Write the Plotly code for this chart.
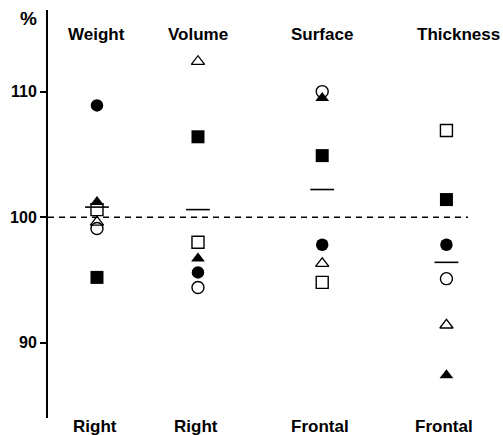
import plotly.graph_objects as go

# ---- data ----
top_labels = ["Weight", "Volume", "Surface", "Thickness"]
bottom_labels = ["Right", "Right", "Frontal", "Frontal"]
cat_pos = [1.0, 2.0, 3.23, 4.46]

filled_circle = [108.9, 95.6, 97.8, 97.8]
open_circle = [99.1, 94.4, 110.0, 95.1]
filled_triangle = [101.2, 96.7, 109.5, 87.4]
open_triangle = [99.6, 112.4, 96.3, 91.4]
filled_square = [95.2, 106.4, 104.9, 101.4]
open_square = [100.6, 98.0, 94.8, 106.9]
means = [100.8, 100.6, 102.2, 96.4]

y_ticks = [90, 100, 110]
reference_level = 100

FONT = "Liberation Sans"

fig = go.Figure()

series = [
    (open_circle, "circle-open", 12, 1.4),
    (filled_circle, "circle", 12.5, 0),
    (open_triangle, "triangle-up-open", 11.5, 1.3),
    (filled_triangle, "triangle-up", 12, 0),
    (open_square, "square-open", 12, 1.4),
    (filled_square, "square", 13, 0),
]
for vals, sym, size, lw in series:
    fig.add_trace(go.Scatter(
        x=cat_pos, y=vals, mode="markers",
        marker=dict(symbol=sym, size=size, color="black",
                    line=dict(color="black", width=lw)),
        showlegend=False, hoverinfo="skip"))

fig.add_trace(go.Scatter(
    x=cat_pos, y=means, mode="markers",
    marker=dict(symbol="line-ew", size=17, color="black",
                line=dict(color="black", width=1.6)),
    showlegend=False, hoverinfo="skip"))

# dashed 100% reference line
fig.add_shape(type="line", xref="paper", yref="y", x0=0, x1=0.923,
              y0=reference_level, y1=reference_level,
              line=dict(color="black", width=1.5, dash="6px,5px"))

# top category labels
for i, (p, t) in enumerate(zip(cat_pos, top_labels)):
    fig.add_annotation(x=p, y=0.939, xref="x", yref="paper", text=t,
                       showarrow=False, xanchor="center", yanchor="middle",
                       xshift=12 if i == 3 else 0,
                       font=dict(family=FONT, size=17, color="black", weight="bold"))

# bottom labels
for p, t in zip(cat_pos, bottom_labels):
    fig.add_annotation(x=p, y=-0.02, xref="x", yref="paper", text=t,
                       showarrow=False, xanchor="center", yanchor="middle",
                       xshift=-2,
                       font=dict(family=FONT, size=17, color="black", weight="bold"))

fig.add_annotation(x=-0.043, y=0.98, xref="paper", yref="paper", text="%",
                   showarrow=False, xanchor="center", yanchor="middle",
                   font=dict(family=FONT, size=19, color="black", weight="bold"))

fig.update_layout(
    width=503, height=435,
    margin=dict(l=48, r=0, t=10, b=17),
    plot_bgcolor="white", paper_bgcolor="white",
    xaxis=dict(range=[0.515, 5.02], showgrid=False, zeroline=False,
               showticklabels=False, ticks="", showline=False),
    yaxis=dict(range=[84.0, 116.5], showgrid=False, zeroline=False,
               showline=True, linecolor="black", linewidth=2,
               ticks="outside", ticklen=6, tickwidth=1.5, tickcolor="black",
               tickvals=y_ticks, ticktext=[str(v) for v in y_ticks],
               tickfont=dict(family=FONT, size=16, color="black", weight="bold"),
               automargin=False),
)

fig.write_html("out.html")
